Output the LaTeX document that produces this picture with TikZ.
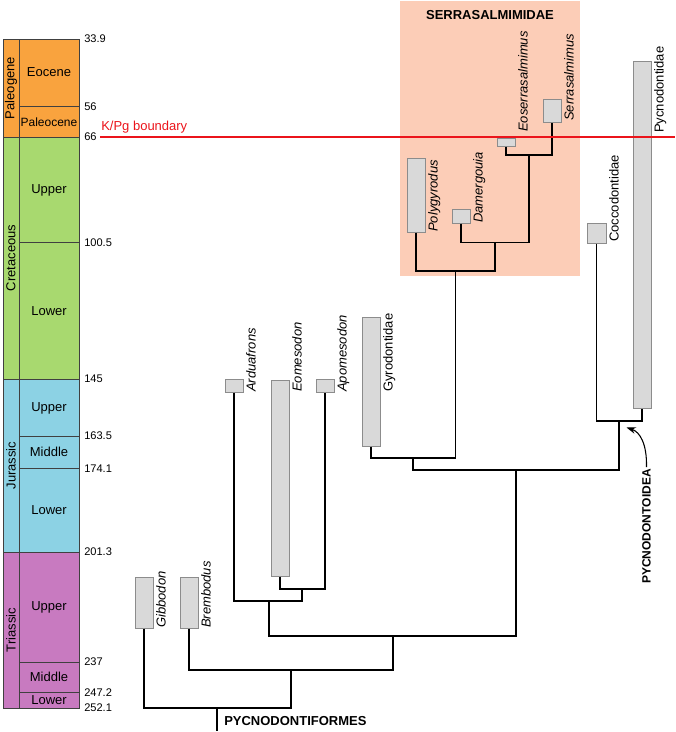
\documentclass[tikz,border=0pt]{standalone}
\usepackage{fontspec}
\setmainfont{Liberation Sans}
\usetikzlibrary{arrows.meta,fit}
\definecolor{cPal}{RGB}{249,163,62}
\definecolor{cCre}{RGB}{168,217,111}
\definecolor{cJur}{RGB}{140,210,228}
\definecolor{cTri}{RGB}{200,122,192}
\definecolor{cPeach}{RGB}{252,205,183}
\definecolor{cKPg}{RGB}{235,20,27}
\begin{document}
\begin{tikzpicture}[x=0.75pt,y=-0.75pt,
  tsline/.style={draw=black!75, line width=0.6pt},
  taxbox/.style={rectangle, draw=black!45, fill=black!15, line width=0.75pt, inner sep=0pt},
  branch/.style={draw=black, line width=1.4pt},
  taxlab/.style={rotate=90, anchor=north west, inner sep=0pt, font=\fontsize{9.75}{11}\selectfont\itshape},
  famlab/.style={rotate=90, anchor=north west, inner sep=0pt, font=\fontsize{9.75}{11}\selectfont},
  numlab/.style={anchor=west, inner sep=0pt, font=\fontsize{8.3}{10}\selectfont},
  eplab/.style={inner sep=0pt, font=\fontsize{9.75}{11}\selectfont},
  perlab/.style={rotate=90, inner sep=0pt, font=\fontsize{9.75}{11}\selectfont},
  cladelab/.style={inner sep=0pt, font=\fontsize{9.75}{11}\selectfont\bfseries}
]
\useasboundingbox (0,0) rectangle (675,732);

% ---------- time scale ----------
\fill[cPal] (3,39) rectangle (79,137);
\fill[cCre] (3,137) rectangle (79,379);
\fill[cJur] (3,379) rectangle (79,552);
\fill[cTri] (3,552) rectangle (79,708);
\draw[tsline] (3,39) rectangle (79,708);
\draw[tsline] (19,39) -- (19,708);
\foreach \yy in {137,379,552} \draw[tsline] (3,\yy) -- (79,\yy);
\foreach \yy in {106.5,242.5,436,468.5,662,692.5} \draw[tsline] (19,\yy) -- (79,\yy);

\node[perlab] (pPal) at (11,88) {Paleogene};
\node[perlab] (pCre) at (11,258) {Cretaceous};
\node[perlab] (pJur) at (11,465.5) {Jurassic};
\node[perlab] (pTri) at (11,630) {Triassic};

\node[eplab] (eEoc) at (49,72.5) {Eocene};
\node[eplab, font=\fontsize{9}{10}\selectfont] (ePal) at (49,122) {Paleocene};
\node[eplab] (eCU) at (49,190) {Upper};
\node[eplab] (eCL) at (49,311) {Lower};
\node[eplab] (eJU) at (49,408) {Upper};
\node[eplab] (eJM) at (49,452) {Middle};
\node[eplab] (eJL) at (49,510) {Lower};
\node[eplab] (eTU) at (49,607) {Upper};
\node[eplab] (eTM) at (49,677) {Middle};
\node[eplab] (eTL) at (49,700.5) {Lower};

\node[numlab] (a1) at (84,39) {33.9};
\node[numlab] (a2) at (84,106.5) {56};
\node[numlab] (a3) at (84,137) {66};
\node[numlab] (a4) at (84,242.5) {100.5};
\node[numlab] (a5) at (84,379) {145};
\node[numlab] (a6) at (84,436) {163.5};
\node[numlab] (a7) at (84,468.5) {174.1};
\node[numlab] (a8) at (84,552) {201.3};
\node[numlab] (a9) at (84,662) {237};
\node[numlab] (a10) at (84,692.5) {247.2};
\node[numlab] (a11) at (84,708) {252.1};

% ---------- Serrasalmimidae background ----------
\fill[cPeach] (400,1) rectangle (580,276);
\node[cladelab] (serlab) at (490,15) {SERRASALMIMIDAE};

% ---------- taxon boxes ----------
\node[taxbox, fit={(135,577) (153,628)}] (gib) {};
\node[taxbox, fit={(180,577) (198,628)}] (bre) {};
\node[taxbox, fit={(225,379) (243,392)}] (ard) {};
\node[taxbox, fit={(271,380) (289,576)}] (eom) {};
\node[taxbox, fit={(316,379) (334,392)}] (apo) {};
\node[taxbox, fit={(362,317) (380,446)}] (gyr) {};
\node[taxbox, fit={(407,158) (425,232)}] (pol) {};
\node[taxbox, fit={(452,209) (470,223)}] (dam) {};
\node[taxbox, fit={(497,138) (515,146)}] (eos) {};
\node[taxbox, fit={(543,99) (561,122)}] (ser) {};
\node[taxbox, fit={(587,223) (606,243)}] (coc) {};
\node[taxbox, fit={(633,61) (651,408)}] (pyc) {};

% ---------- taxon labels ----------
\node[taxlab] (lgib) at (156,628) {Gibbodon};
\node[taxlab] (lbre) at (201,628) {Brembodus};
\node[taxlab] (lard) at (246,392) {Arduafrons};
\node[taxlab] (leom) at (292,392) {Eomesodon};
\node[taxlab] (lapo) at (337,392) {Apomesodon};
\node[famlab] (lgyr) at (383,392) {Gyrodontidae};
\node[taxlab] (lpol) at (428,232) {Polygyrodus};
\node[taxlab] (ldam) at (473,223) {Damergouia};
\node[taxlab] (leos) at (518,132) {Eoserrasalmimus};
\node[taxlab] (lser) at (564,121) {Serrasalmimus};
\node[famlab] (lcoc) at (609,242) {Coccodontidae};
\node[famlab] (lpyc) at (654,133) {Pycnodontidae};

% ---------- internal nodes ----------
\coordinate (nSE) at (528.7,155);
\coordinate (nDS) at (495,242.5);
\coordinate (nPD) at (455.5,270.7);
\coordinate (nGS) at (413,458.3);
\coordinate (nPC) at (619.3,421);
\coordinate (nBig) at (516.3,470.3);
\coordinate (nEA) at (302,589);
\coordinate (nAr) at (268.7,601);
\coordinate (nBr2) at (392.7,636);
\coordinate (nBr) at (290.7,670);
\coordinate (nRoot) at (217.3,708);
\coordinate (rootend) at (217.3,731);

% ---------- branches ----------
\draw[branch] (eos.south) |- (nSE) -| (ser.south);
\draw[branch] (dam.south) |- (nDS) -| (nSE);
\draw[branch] (pol.south) |- (nPD) -| (nDS);
\draw[branch] (gyr.south) |- (nGS) -| (nPD);
\draw[branch] (coc.south) |- (nPC) -| (pyc.south);
\draw[branch] (nGS) |- (nBig) -| (nPC);
\draw[branch] (eom.south) |- (nEA) -| (apo.south);
\draw[branch] (ard.south) |- (nAr) -| (nEA);
\draw[branch] (nAr) |- (nBr2) -| (nBig);
\draw[branch] (bre.south) |- (nBr) -| (nBr2);
\draw[branch] (gib.south) |- (nRoot) -| (nBr);
\draw[branch] (nRoot) -- (rootend);

% ---------- clade labels ----------
\node[cladelab, anchor=west] (pycf) at (224,721) {PYCNODONTIFORMES};
\node[cladelab, rotate=90, font=\fontsize{9}{10}\selectfont\bfseries] (pycoid) at (646.5,526.5) {PYCNODONTOIDEA};
\coordinate (arrtip) at (626.5,427.5);
\draw[line width=0.8pt, -{Stealth[length=7pt,width=5pt]}] (pycoid.east) ++(0,-2) .. controls (647,444) and (640,432) .. (arrtip);

% ---------- K/Pg boundary ----------
\draw[cKPg, line width=2.2pt] (100,137) -- (675,137);
\node[anchor=base west, inner sep=0pt, text=cKPg, font=\fontsize{9.75}{11}\selectfont] (kpg) at (101,130.5) {K/Pg boundary};
\end{tikzpicture}
\end{document}
